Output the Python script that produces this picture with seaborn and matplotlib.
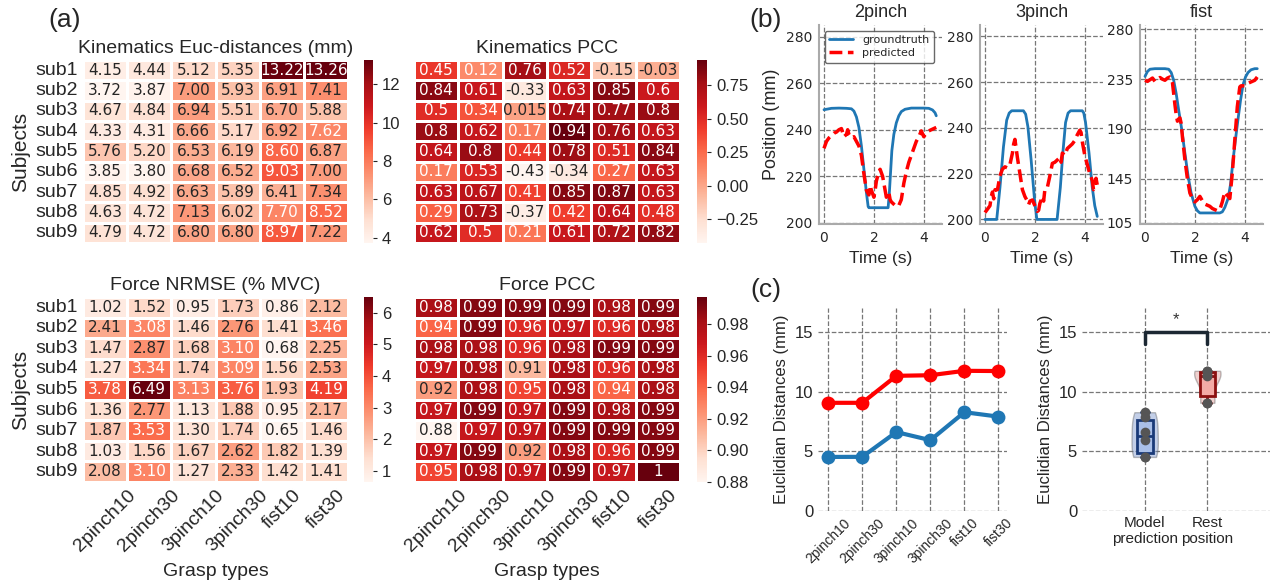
import numpy as np
import pandas as pd
import matplotlib
matplotlib.use("Agg")
import matplotlib.pyplot as plt
import seaborn as sns

# ---------------- data ----------------
subjects = ["sub1", "sub2", "sub3", "sub4", "sub5", "sub6", "sub7", "sub8", "sub9"]
grasp_types = ["2pinch10", "2pinch30", "3pinch10", "3pinch30", "fist10", "fist30"]

kin_euc = [
    [4.15, 4.44, 5.12, 5.35, 13.22, 13.26],
    [3.72, 3.87, 7.00, 5.93, 6.91, 7.41],
    [4.67, 4.84, 6.94, 5.51, 6.70, 5.88],
    [4.33, 4.31, 6.66, 5.17, 6.92, 7.62],
    [5.76, 5.20, 6.53, 6.19, 8.60, 6.87],
    [3.85, 3.80, 6.68, 6.52, 9.03, 7.00],
    [4.85, 4.92, 6.63, 5.89, 6.41, 7.34],
    [4.63, 4.72, 7.13, 6.02, 7.70, 8.52],
    [4.79, 4.72, 6.80, 6.80, 8.97, 7.22],
]
kin_pcc = [
    [0.45, 0.12, 0.76, 0.52, -0.15, -0.03],
    [0.84, 0.61, -0.33, 0.63, 0.85, 0.6],
    [0.5, 0.34, 0.015, 0.74, 0.77, 0.8],
    [0.8, 0.62, 0.17, 0.94, 0.76, 0.63],
    [0.64, 0.8, 0.44, 0.78, 0.51, 0.84],
    [0.17, 0.53, -0.43, -0.34, 0.27, 0.63],
    [0.63, 0.67, 0.41, 0.85, 0.87, 0.63],
    [0.29, 0.73, -0.37, 0.42, 0.64, 0.48],
    [0.62, 0.5, 0.21, 0.61, 0.72, 0.82],
]
force_nrmse = [
    [1.02, 1.52, 0.95, 1.73, 0.86, 2.12],
    [2.41, 3.08, 1.46, 2.76, 1.41, 3.46],
    [1.47, 2.87, 1.68, 3.10, 0.68, 2.25],
    [1.27, 3.34, 1.74, 3.09, 1.56, 2.53],
    [3.78, 6.49, 3.13, 3.76, 1.93, 4.19],
    [1.36, 2.77, 1.13, 1.88, 0.95, 2.17],
    [1.87, 3.53, 1.30, 1.74, 0.65, 1.46],
    [1.03, 1.56, 1.67, 2.62, 1.82, 1.39],
    [2.08, 3.10, 1.27, 2.33, 1.42, 1.41],
]
force_pcc = [
    [0.98, 0.99, 0.99, 0.99, 0.98, 0.99],
    [0.94, 0.99, 0.96, 0.97, 0.96, 0.98],
    [0.98, 0.98, 0.96, 0.98, 0.99, 0.99],
    [0.97, 0.98, 0.91, 0.98, 0.96, 0.98],
    [0.92, 0.98, 0.95, 0.98, 0.94, 0.98],
    [0.97, 0.99, 0.97, 0.99, 0.98, 0.99],
    [0.88, 0.97, 0.97, 0.99, 0.99, 0.99],
    [0.97, 0.99, 0.92, 0.98, 0.96, 0.99],
    [0.95, 0.98, 0.97, 0.99, 0.97, 0.997],
]

# rest position distances (red line in c)
rest_dist = [9.06, 9.06, 11.32, 11.37, 11.74, 11.72]

# example trajectories (b)
t_2p_gt = [0.0, 0.3, 0.6, 0.9, 1.1, 1.2, 1.3, 1.4, 1.5, 1.6, 1.7, 1.77, 1.8, 2.2, 2.57, 2.62,
           2.67, 2.72, 2.8, 2.9, 3.0, 3.1, 3.25, 3.5, 4.0, 4.2, 4.35, 4.45, 4.5]
v_2p_gt = [248.6, 249.2, 249.3, 249.2, 249.0, 248.0, 245.5, 241.0, 233.0, 223.0, 213.0, 207.0,
           206.5, 206.5, 206.5, 213.0, 222.0, 231.0, 238.0, 243.0, 246.0, 247.8, 248.8, 249.3,
           249.3, 249.2, 248.5, 247.3, 246.0]
t_2p_pr = [0.0, 0.1, 0.2, 0.3, 0.4, 0.5, 0.6, 0.7, 0.8, 0.9, 0.95, 1.0, 1.1, 1.2, 1.3, 1.4,
           1.5, 1.6, 1.7, 1.8, 1.85, 1.9, 2.0, 2.05, 2.1, 2.2, 2.25, 2.35, 2.45, 2.5, 2.6,
           2.65, 2.7, 2.8, 2.9, 3.0, 3.1, 3.2, 3.3, 3.4, 3.5, 3.6, 3.7, 3.8, 3.9, 4.0, 4.1,
           4.2, 4.3, 4.4, 4.5]
v_2p_pr = [232, 235, 236.5, 237.5, 238.5, 239, 240, 240.5, 237, 238, 240, 238, 236.5, 237,
           235, 233, 229, 221, 214, 212, 216, 214, 211, 214, 218, 222, 223, 220, 214, 211,
           213, 210, 209, 208, 207, 207.5, 210, 217, 222, 226, 229, 232, 235, 237, 239.5,
           237, 238.5, 239.5, 240, 240.5, 241]

t_3p_gt = [0.0, 0.47, 0.6, 0.74, 0.87, 0.97, 1.07, 1.54, 1.63, 1.72, 1.85, 1.99, 2.08,
           2.89, 3.02, 3.12, 3.23, 3.33, 3.43, 3.9, 3.96, 4.03, 4.17, 4.3, 4.4, 4.5]
v_3p_gt = [200, 200, 214, 231.7, 243.4, 246.5, 247.5, 247.5, 246, 240.5, 225.9, 208, 200,
           200, 214, 229, 242.4, 246.5, 247.5, 247.5, 246.5, 242.4, 229, 214, 206, 201.3]
t_3p_pr = [0.0, 0.1, 0.2, 0.25, 0.3, 0.35, 0.4, 0.5, 0.55, 0.6, 0.7, 0.8, 0.9, 1.0, 1.1,
           1.15, 1.2, 1.25, 1.3, 1.4, 1.5, 1.6, 1.7, 1.75, 1.8, 1.9, 2.0, 2.1, 2.15, 2.2,
           2.3, 2.35, 2.4, 2.5, 2.6, 2.7, 2.8, 2.9, 3.0, 3.05, 3.1, 3.2, 3.3, 3.4, 3.5, 3.6,
           3.7, 3.8, 3.85, 3.9, 4.0, 4.1, 4.2, 4.3, 4.35, 4.4, 4.45, 4.5]
v_3p_pr = [203, 204.5, 206, 210, 212, 209, 213, 213, 216, 219, 222, 223, 222.5, 224, 229,
           233, 235, 231, 227, 220, 213, 210, 208, 206.5, 208, 208.5, 206, 203.5, 204, 207,
           210, 208, 213, 214, 219, 224.5, 225, 226, 227, 225, 229, 228, 231, 232, 233,
           234.5, 237, 239, 238, 234, 228, 224, 220, 217, 213, 214, 218, 215]

t_fist_gt = [0.0, 0.1, 0.2, 0.4, 0.8, 0.95, 1.05, 1.15, 1.25, 1.35, 1.47, 1.6, 1.73, 1.85,
             2.0, 2.1, 2.2, 3.0, 3.1, 3.2, 3.33, 3.43, 3.53, 3.63, 3.73, 3.83, 3.93, 4.03,
             4.13, 4.25, 4.4, 4.5]
v_fist_gt = [237.5, 242, 244, 244.5, 244.5, 244, 241, 234, 222, 207, 190, 168, 147, 132,
             120, 116, 114, 114, 115, 119, 127, 140, 162, 181, 199, 216, 230, 237, 241,
             243.5, 244.5, 244.5]
t_fist_pr = [0.0, 0.1, 0.2, 0.3, 0.4, 0.5, 0.6, 0.7, 0.8, 0.9, 1.0, 1.05, 1.1, 1.15, 1.2,
             1.25, 1.3, 1.35, 1.4, 1.45, 1.5, 1.6, 1.7, 1.8, 1.9, 2.0, 2.1, 2.2, 2.3, 2.4,
             2.5, 2.6, 2.7, 2.8, 2.9, 3.0, 3.1, 3.2, 3.3, 3.4, 3.5, 3.6, 3.7, 3.8, 3.85,
             3.9, 4.0, 4.1, 4.2, 4.3, 4.4, 4.5]
v_fist_pr = [234, 233, 234.5, 236, 233, 235, 236.5, 235, 234, 236, 237, 236, 232, 222,
             212, 203, 197, 199, 200, 195, 183, 162, 145, 132, 127, 124, 126, 129, 125,
             122, 121, 120, 118, 117, 116, 117, 124, 133, 130, 127, 150, 180, 210, 228,
             229, 229, 229, 231, 232, 233, 234, 237]

# ---------------- figure ----------------
sns.set_style("white")
plt.rcParams["font.family"] = ["Liberation Sans", "DejaVu Sans"]

W, H = 1275, 585
fig = plt.figure(figsize=(W / 100, H / 100), dpi=100)


def px_axes(x0, y0, x1, y1):
    return fig.add_axes([x0 / W, 1 - y1 / H, (x1 - x0) / W, (y1 - y0) / H])


def draw_heat(data, fmt, box, cbox, title, show_y, show_x, cticks, cfmt):
    ax = px_axes(*box)
    cax = px_axes(*cbox)
    df = pd.DataFrame(data, index=subjects, columns=grasp_types)
    sns.heatmap(df, ax=ax, cbar_ax=cax, cmap="Reds", annot=True, fmt=fmt,
                linewidths=1, linecolor="white",
                annot_kws={"size": 11, "family": "DejaVu Sans"})
    ax.set_title(title, fontsize=14, pad=5)
    ax.tick_params(length=0, labelsize=14)
    if show_y:
        ax.set_yticklabels(subjects, rotation=0, fontsize=14)
        ax.set_ylabel("Subjects", fontsize=15)
    else:
        ax.set_yticks([])
    if show_x:
        ax.set_xticklabels(grasp_types, rotation=45, fontsize=14)
        ax.set_xlabel("Grasp types", fontsize=14, labelpad=6)
    else:
        ax.set_xticks([])
    cax.set_yticks(cticks)
    cax.set_yticklabels([cfmt.format(v).replace("-", "\u2212") for v in cticks])
    cax.tick_params(labelsize=12, length=3)
    return ax


draw_heat(kin_euc, ".2f", (83, 60, 348, 243), (364, 60, 373, 243),
          "Kinematics Euc-distances (mm)", True, False, [4, 6, 8, 10, 12], "{:d}")
draw_heat(kin_pcc, ".2g", (414, 60, 680, 243), (697, 60, 707, 243),
          "Kinematics PCC", False, False, [-0.25, 0.0, 0.25, 0.5, 0.75], "{:.2f}")
draw_heat(force_nrmse, ".2f", (83, 297, 348, 482), (364, 297, 373, 482),
          "Force NRMSE (% MVC)", True, True, [1, 2, 3, 4, 5, 6], "{:d}")
draw_heat(force_pcc, ".2g", (414, 297, 680, 482), (697, 297, 707, 482),
          "Force PCC", False, True, [0.88, 0.90, 0.92, 0.94, 0.96, 0.98], "{:.2f}")

fig.text(65 / W, 1 - 20 / H, "(a)", fontsize=19, ha="center", va="center")
fig.text(766 / W, 1 - 20 / H, "(b)", fontsize=19, ha="center", va="center")
fig.text(766 / W, 1 - 290 / H, "(c)", fontsize=19, ha="center", va="center")

# ---------------- (b) trajectories ----------------
blue = "#1f77b4"
traj = [
    ("2pinch", t_2p_gt, v_2p_gt, t_2p_pr, v_2p_pr, (819, 25, 942, 224), (199.5, 285),
     [200, 220, 240, 260, 280]),
    ("3pinch", t_3p_gt, v_3p_gt, t_3p_pr, v_3p_pr, (980, 25, 1103, 224), (198, 285),
     [200, 220, 240, 260, 280]),
    ("fist", t_fist_gt, v_fist_gt, t_fist_pr, v_fist_pr, (1140, 25, 1263, 224), (104, 284),
     [105, 145, 190, 235, 280]),
]
for i, (name, tg, vg, tp, vp, box, ylim, yt) in enumerate(traj):
    ax = px_axes(*box)
    sns.lineplot(x=tg, y=vg, ax=ax, color=blue, lw=2, label="groundtruth", sort=False)
    sns.lineplot(x=tp, y=vp, ax=ax, color="red", lw=2.5, ls="--", label="predicted", sort=False)
    ax.set_xlim(-0.2, 4.73)
    ax.set_ylim(*ylim)
    ax.set_xticks([0, 2, 4])
    ax.set_yticks(yt)
    ax.grid(True, ls="--", color="#777777", lw=0.9)
    for s in ["top", "right"]:
        ax.spines[s].set_visible(False)
    for s in ["left", "bottom"]:
        ax.spines[s].set_color("#aaaaaa")
        ax.spines[s].set_linewidth(1.5)
    ax.tick_params(labelsize=10, length=3, color="#777777", pad=2)
    for lab in ax.get_xticklabels() + ax.get_yticklabels():
        lab.set_family("DejaVu Sans")
    ax.set_title(name, fontsize=13, pad=6)
    ax.set_xlabel("Time (s)", fontsize=12.5)
    if i == 0:
        ax.set_ylabel("Position (mm)", fontsize=13)
        leg = ax.legend(loc="upper left", fontsize=8, frameon=True, borderpad=0.4,
                        handlelength=2.2, labelspacing=0.3)
        leg.get_frame().set_edgecolor("#444444")
        for txt in leg.get_texts():
            txt.set_family("DejaVu Sans")
    else:
        ax.set_ylabel("")
        ax.get_legend().remove()

# ---------------- (c) left: line plot ----------------
model_dist = list(pd.DataFrame(kin_euc, columns=grasp_types).mean().values)

ax = px_axes(818, 308, 1007, 511)
sns.lineplot(x=grasp_types, y=rest_dist, ax=ax, color="red", lw=3, marker="o",
             markersize=10, markeredgewidth=0, sort=False)
sns.lineplot(x=grasp_types, y=model_dist, ax=ax, color=blue, lw=3, marker="o",
             markersize=10, markeredgewidth=0, sort=False)
ax.set_xlim(-0.3, 5.25)
ax.set_ylim(0, 17)
ax.set_yticks([0, 5, 10, 15])
ax.grid(True, ls="--", color="#777777", lw=0.9)
sns.despine(ax=ax, left=True, bottom=True)
ax.tick_params(length=0, labelsize=12)
ax.set_xticks(range(len(grasp_types)))
ax.set_xticklabels(grasp_types, rotation=45, fontsize=10)
ax.set_ylabel("Euclidian Distances (mm)", fontsize=12)

# ---------------- (c) right: violin + box ----------------
groups = ["Model\nprediction", "Rest\nposition"]
box_df = pd.DataFrame({
    "group": [groups[0]] * len(model_dist) + [groups[1]] * len(rest_dist),
    "dist": model_dist + rest_dist,
})
ax = px_axes(1082, 308, 1270, 511)
vcols = {groups[0]: "#5b84d6", groups[1]: "#e8807a"}
bfill = {groups[0]: "#a9bfe8", groups[1]: "#f3aaa5"}
bedge = {groups[0]: "#1a3a78", groups[1]: "#8b1010"}
sns.violinplot(data=box_df, x="group", y="dist", hue="group", order=groups,
               palette=vcols, inner=None, cut=0, width=0.42, linewidth=1,
               density_norm="width", ax=ax, legend=False)
for coll in ax.collections:
    coll.set_alpha(0.4)
for g in groups:
    sns.boxplot(data=box_df[box_df.group == g], x="group", y="dist", order=groups,
                color=bfill[g], linecolor=bedge[g], linewidth=2, width=0.25,
                saturation=1, whis=3, fliersize=0, ax=ax)
sns.stripplot(data=box_df, x="group", y="dist", order=groups, color="#555555",
              jitter=False, size=7, ax=ax, zorder=5)
ax.plot([0, 0, 1, 1], [14, 15, 15, 14], color="#1c2833", lw=2.5)
ax.text(0.5, 15.4, "*", ha="center", va="bottom", fontsize=12, color="#333333")
ax.set_xlim(-1, 2)
ax.set_ylim(0, 17)
ax.set_yticks([0, 5, 10, 15])
ax.grid(True, ls="--", color="#777777", lw=0.9)
ax.set_axisbelow(True)
sns.despine(ax=ax, left=True, bottom=True)
ax.tick_params(length=0, labelsize=12)
ax.set_xticks([0, 1])
ax.set_xticklabels(groups, fontsize=11)
ax.set_xlabel("")
ax.set_ylabel("Euclidian Distances (mm)", fontsize=12)

fig.savefig("out.png", dpi=100)
